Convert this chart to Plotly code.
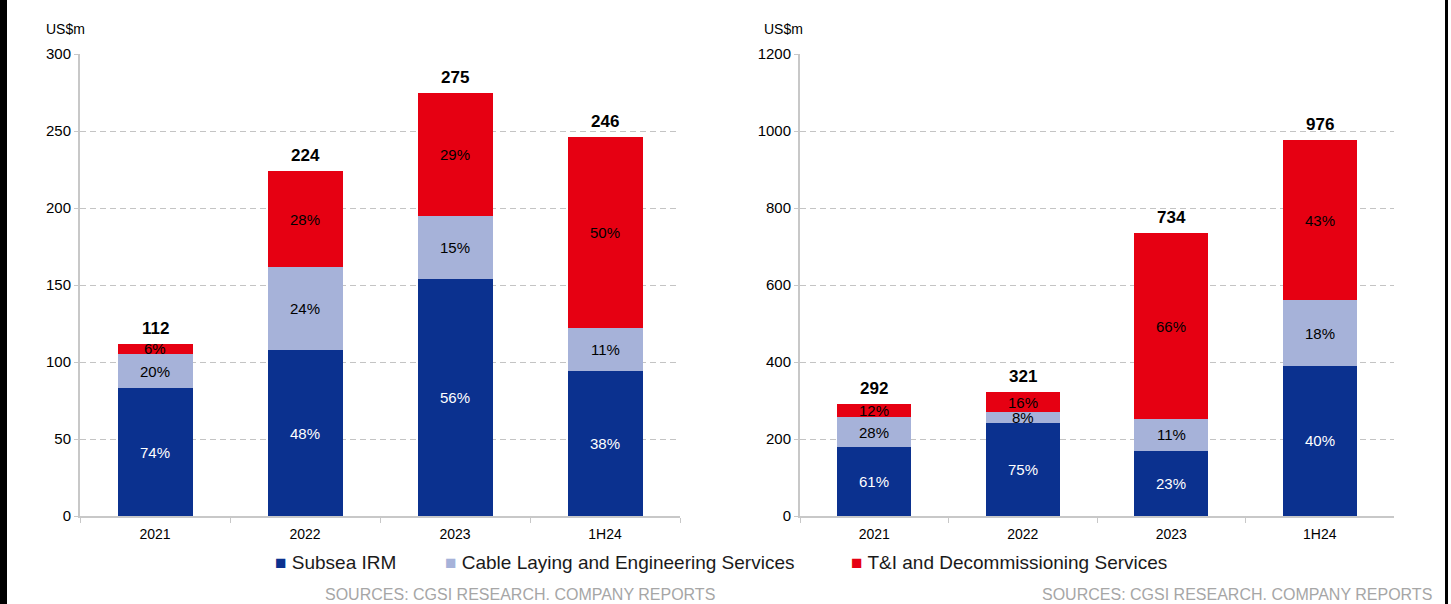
import plotly.graph_objects as go

W, H = 1451, 604

categories = ["2021", "2022", "2023", "1H24"]
series_names = ["Subsea IRM", "Cable Laying and Engineering Services",
                "T&I and Decommissioning Services"]
series_colors = ["#0B318F", "#A6B2D9", "#E60012"]
pct_font_colors = ["white", "black", "black"]

# Left panel (US$m)
left_irm = [83, 107.5, 154, 94]
left_cable = [22, 54, 41, 28]
left_ti = [7, 62.5, 80, 124]
left_irm_pct = ["74%", "48%", "56%", "38%"]
left_cable_pct = ["20%", "24%", "15%", "11%"]
left_ti_pct = ["6%", "28%", "29%", "50%"]

# Right panel (US$m)
right_irm = [178, 241, 170, 390]
right_cable = [80, 28, 81, 170]
right_ti = [34, 52, 483, 416]
right_irm_pct = ["61%", "75%", "23%", "40%"]
right_cable_pct = ["28%", "8%", "11%", "18%"]
right_ti_pct = ["12%", "16%", "66%", "43%"]

left_ticks = [0, 50, 100, 150, 200, 250, 300]
right_ticks = [0, 200, 400, 600, 800, 1000, 1200]

unit_label = "US$m"
source_note = "SOURCES: CGSI RESEARCH. COMPANY REPORTS"

FONT = "Arial, Liberation Sans, sans-serif"
AXIS_GREY = "#c8c8c8"
GRID_GREY = "#c4c4c4"


def px_x(x):
    return x / W


def px_y(y):
    return 1 - y / H


fig = go.Figure()

panels = [
    dict(xa="x", ya="y", series=[left_irm, left_cable, left_ti],
         pcts=[left_irm_pct, left_cable_pct, left_ti_pct]),
    dict(xa="x2", ya="y2", series=[right_irm, right_cable, right_ti],
         pcts=[right_irm_pct, right_cable_pct, right_ti_pct]),
]

annotations = []
for p in panels:
    bases = [0.0] * len(categories)
    for vals, pcts, name, color, fcol in zip(p["series"], p["pcts"], series_names,
                                             series_colors, pct_font_colors):
        fig.add_trace(go.Bar(
            x=categories, y=vals, name=name, marker=dict(color=color, line_width=0),
            xaxis=p["xa"], yaxis=p["ya"], showlegend=False, hoverinfo="skip",
        ))
        # segment share labels, placed at the middle of each stacked piece
        for i, (v, t) in enumerate(zip(vals, pcts)):
            annotations.append(dict(
                x=i, y=bases[i] + v / 2, xref=p["xa"], yref=p["ya"], text=t,
                showarrow=False, font=dict(family=FONT, size=15, color=fcol),
                xanchor="center", yanchor="middle",
            ))
            bases[i] += v
    # stacked totals above each bar
    for i, tot in enumerate(bases):
        annotations.append(dict(
            x=i, y=tot, xref=p["xa"], yref=p["ya"], text=f"<b>{round(tot)}</b>",
            showarrow=False, font=dict(family=FONT, size=17, color="black"),
            xanchor="center", yanchor="bottom", yshift=4,
        ))

# unit labels
for x0 in (44, 762):
    annotations.append(dict(
        x=px_x(x0), y=px_y(29), xref="paper", yref="paper", text=unit_label,
        showarrow=False, font=dict(family=FONT, size=14, color="black"),
        xanchor="left", yanchor="middle",
    ))

# legend row
for x0, name, color in zip((273, 443, 849), series_names, series_colors):
    annotations.append(dict(
        x=px_x(x0), y=px_y(562), xref="paper", yref="paper",
        text=f"<span style='color:{color}'>■</span> {name}",
        showarrow=False, font=dict(family=FONT, size=19, color="#1a1a1a"),
        xanchor="left", yanchor="middle",
    ))

# source notes, sitting on the bottom edge
for x0 in (324, 1041):
    annotations.append(dict(
        x=px_x(x0), y=0, xref="paper", yref="paper", text=source_note,
        showarrow=False, font=dict(family=FONT, size=16, color="#a6a6a6"),
        xanchor="left", yanchor="bottom", borderpad=0,
    ))

xaxis_common = dict(
    type="category", range=[-0.5, 3.5], showline=True, linecolor=AXIS_GREY,
    linewidth=2, ticks="outside", tickson="boundaries", ticklen=5,
    tickcolor=AXIS_GREY, tickwidth=1, showgrid=False, fixedrange=True,
    automargin=False, ticklabelstandoff=4,
    tickfont=dict(family=FONT, size=14, color="black"),
)
yaxis_common = dict(
    showline=True, linecolor=AXIS_GREY, linewidth=2, ticks="outside",
    ticklen=4, tickcolor=AXIS_GREY, showgrid=True, gridcolor=GRID_GREY,
    griddash="6px,4px", gridwidth=1, zeroline=False, fixedrange=True,
    automargin=False, tickfont=dict(family=FONT, size=15, color="black"),
)

y_dom = [px_y(516), px_y(54)]

fig.update_layout(
    width=W, height=H, autosize=False,
    margin=dict(l=0, r=0, t=0, b=0, pad=0, autoexpand=False),
    paper_bgcolor="white", plot_bgcolor="white",
    barmode="stack", bargap=0.5, showlegend=False,
    xaxis=dict(domain=[px_x(80), px_x(680)], anchor="y", **xaxis_common),
    yaxis=dict(domain=y_dom, anchor="x", range=[0, 300], tickvals=left_ticks,
               **yaxis_common),
    xaxis2=dict(domain=[px_x(800), px_x(1394)], anchor="y2", **xaxis_common),
    yaxis2=dict(domain=y_dom, anchor="x2", range=[0, 1200], tickvals=right_ticks,
                **yaxis_common),
    annotations=annotations,
    shapes=[
        dict(type="rect", xref="paper", yref="paper", x0=0, x1=px_x(7), y0=0, y1=1,
             fillcolor="black", line_width=0, layer="above"),
        dict(type="rect", xref="paper", yref="paper", x0=px_x(1445), x1=px_x(1448),
             y0=0, y1=1, fillcolor="black", line_width=0, layer="above"),
    ],
    font=dict(family=FONT),
)

fig.write_html("out.html")
